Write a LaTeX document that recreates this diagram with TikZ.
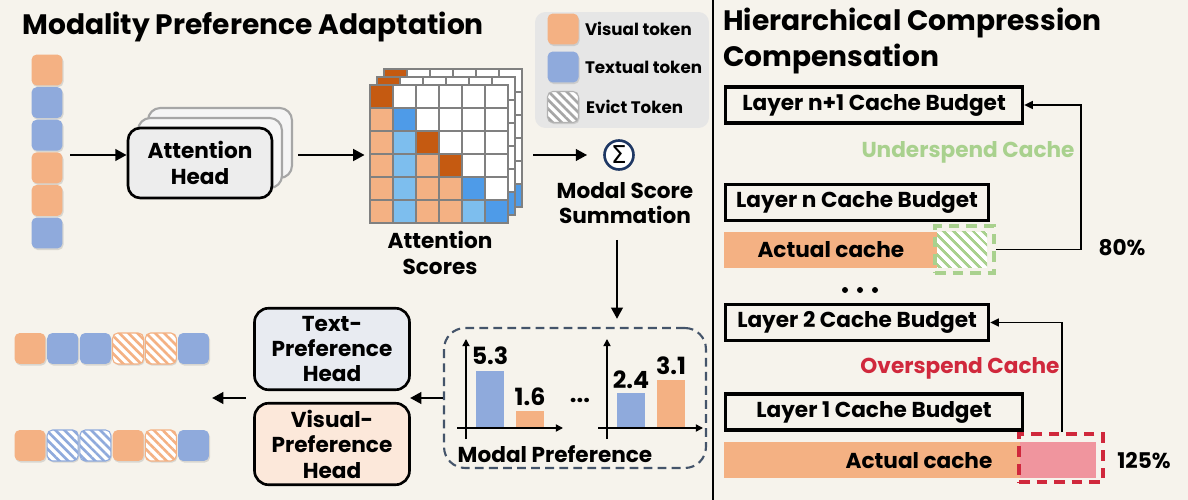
\documentclass[tikz,border=0pt]{standalone}
\usepackage{fontspec}
\setmainfont{Poppins}
\newfontfamily\dejavu{DejaVu Sans}
\usetikzlibrary{arrows.meta,positioning,shadows,patterns.meta}

\definecolor{bgcol}{HTML}{F6F3EC}
\definecolor{vis}{HTML}{F4B183}
\definecolor{txt}{HTML}{8FAADC}
\definecolor{darkor}{HTML}{C55A11}
\definecolor{bluemid}{HTML}{4E9BE8}
\definecolor{ltblue}{HTML}{7DBEEE}
\definecolor{navy}{HTML}{1F3864}
\definecolor{slate}{HTML}{44546A}
\definecolor{legcol}{HTML}{E6E6E6}
\definecolor{grn}{HTML}{A9D18E}
\definecolor{redc}{HTML}{D0283C}
\definecolor{pinkc}{HTML}{F0959E}
\definecolor{tphcol}{HTML}{E8EBF1}

\tikzset{
  bodyfont/.style={font=\fontsize{12.3}{14.5}\selectfont\bfseries},
  ttl/.style={font=\fontsize{16}{20.5}\selectfont\bfseries, inner sep=0pt},
  arr/.style={-{Triangle[length=6.5pt,width=6.5pt]}, line width=1.7pt},
  thinarr/.style={-{Triangle[length=5pt,width=4.5pt]}, line width=1pt},
  tok/.style={rounded corners=3pt, minimum size=0.62cm, inner sep=0pt,
    drop shadow={shadow xshift=0.6pt, shadow yshift=-0.9pt, opacity=0.25}},
  htok/.style={tok, line width=0.6pt, preaction={fill=white},
    pattern={Lines[angle=-45,distance=3.6pt,line width=1.5pt]}},
  headbk/.style={draw=black!35, fill=black!4, line width=1.2pt, rounded corners=7pt,
    minimum width=2.88cm, minimum height=1.4cm},
  headbox/.style={bodyfont, align=center, draw=black, fill=black!7, line width=1.5pt,
    rounded corners=7pt, minimum width=2.88cm, minimum height=1.4cm},
  prefhead/.style={bodyfont, align=center, draw=black, line width=1.5pt,
    rounded corners=8pt, minimum width=3.1cm, minimum height=1.63cm},
  lbox/.style={bodyfont, draw=black, line width=1.8pt, anchor=west,
    minimum height=0.72cm, inner sep=0pt},
  cachebar/.style={fill=vis, anchor=west, minimum height=0.72cm, inner sep=0pt},
  num/.style={font=\fontsize{13.5}{15}\selectfont\bfseries, inner sep=0pt},
  axarr/.style={-{Triangle[length=4pt,width=4pt]}, line width=0.9pt},
}

% one layer of the attention score grid
\newcommand\attlayer[2]{%
  \foreach \c/\o in {0/1,1/0,2/1,3/1,4/0,5/0}
    \foreach \r in {0,...,5}{
      \ifnum\c>\r \def\cc{white}\else
        \ifnum\c=\r \ifnum\o=1 \def\cc{darkor}\else\def\cc{bluemid}\fi
        \else \ifnum\o=1 \def\cc{vis}\else\def\cc{ltblue}\fi\fi\fi
      \filldraw[fill=\cc, draw=black!50, line width=0.8pt]
        (370+#1+23*\c,85+#2+23*\r) rectangle ++(23,23);
    }%
}

\begin{document}
\begin{tikzpicture}[x=0.02cm, y=-0.02cm]
  \fill[bgcol] (0,0) rectangle (1188,500);
  \useasboundingbox (0,0) rectangle (1188,500);

  % Titles and divider
  \node[ttl, anchor=west] (title1) at (22,27) {Modality Preference Adaptation};
  \node[ttl, anchor=north west, align=left] (title2) at (723,8) {Hierarchical Compression\\Compensation};
  \draw[line width=1.2pt] (713,0) -- (713,500);

  % Input tokens
  \foreach \c [count=\i from 0] in {vis,txt,txt,vis,vis,txt}
    \node[tok, fill=\c] (in\i) at (47,70+32.6*\i) {};

  % Attention heads
  \node[headbk] (head3) at (220,143) {};
  \node[headbk] (head2) at (210,153) {};
  \node[headbox] (head) at (200,163) {Attention\\Head};
  \coordinate (a1) at (70,155);
  \draw[arr] (a1) -- (a1 -| head.west);

  % Attention scores
  \attlayer{14}{-16}
  \attlayer{7}{-8}
  \attlayer{0}{0}
  \node[minimum width=2.76cm, minimum height=2.76cm] (mat) at (439,154) {};
  \node[bodyfont, align=center] (attlbl) at (440,253) {Attention\\Scores};
  \coordinate (a2) at (298,155);
  \draw[arr] (a2) -- ([xshift=-0.1cm]a2 -| mat.west);

  % Summation
  \node[circle, draw=navy, fill=white, line width=1.5pt, minimum size=0.58cm, inner sep=0pt,
    font=\dejavu\fontsize{14}{14}\selectfont] (sig) at (619,155) {Σ};
  \node[bodyfont, align=center] (sumlbl) at (625,203) {Modal Score\\Summation};
  \coordinate (a3) at (533,155);
  \draw[arr] (a3) -- ([xshift=-0.32cm]sig.west);

  % Legend
  \node[fill=legcol, rounded corners=6pt, minimum width=3.48cm, minimum height=2.32cm] (leg) at (622,70) {};
  \node[tok, fill=vis] (lg1) at (563,29) {};
  \node[tok, fill=txt] (lg2) at (563,67) {};
  \node[htok, draw=black!30, pattern color=black!35] (lg3) at (563,107) {};
  \node[font=\fontsize{9.5}{11}\selectfont\bfseries, anchor=west] (lt1) at (lg1.east) {Visual token};
  \node[font=\fontsize{9.5}{11}\selectfont\bfseries, anchor=west] (lt2) at (lg2.east) {Textual token};
  \node[font=\fontsize{9.5}{11}\selectfont\bfseries, anchor=west] (lt3) at (lg3.east) {Evict Token};

  % Modal preference
  \node[draw=slate, dash pattern=on 5pt off 3pt, line width=1.2pt, rounded corners=12pt,
    minimum width=5.24cm, minimum height=2.8cm] (pref) at (575,398) {};
  \coordinate (a4) at (617,240);
  \draw[arr] (a4) -- ([yshift=0.16cm]a4 |- pref.north);
  \fill[txt] (476,371) rectangle (504,428);
  \fill[vis] (516,411) rectangle (544,428);
  \draw[axarr] (457,428) -- (563,428);
  \draw[axarr] (466,439) -- (466,339);
  \node[num] (v1) at (490,356) {5.3};
  \node[num] (v2) at (530,397) {1.6};
  \node[num] (dots) at (580,400) {...};
  \fill[txt] (617,393) rectangle (645,428);
  \fill[vis] (657,380) rectangle (685,428);
  \draw[axarr] (598,428) -- (703,428);
  \draw[axarr] (607,439) -- (607,339);
  \node[num] (v3) at (631,380) {2.4};
  \node[num] (v4) at (671,366) {3.1};
  \node[bodyfont] (preflbl) at (555,454) {Modal Preference};

  % Preference heads
  \node[prefhead, fill=tphcol] (tph) at (332,349) {Text-\\Preference\\Head};
  \node[prefhead, fill=vis!30] (vph) at (332,444) {Visual-\\Preference\\Head};
  \coordinate (a5) at (410,398);
  \draw[arr] (pref.west) -- (a5);
  \coordinate (a6) at (246,398);
  \coordinate (a7) at (212,398);
  \draw[arr] (a6) -- (a7);

  % Compressed token rows
  \foreach \c/\p in {vis/0,txt/1,txt/2,txt/5}
    \node[tok, fill=\c] (ra\p) at (30+32.7*\p,348.5) {};
  \foreach \p in {3,4}
    \node[htok, draw=vis, pattern color=vis] (ra\p) at (30+32.7*\p,348.5) {};
  \foreach \c/\p in {vis/0,vis/3,txt/5}
    \node[tok, fill=\c] (rb\p) at (30+32.7*\p,445.5) {};
  \foreach \c/\p in {txt/1,txt/2,vis/4}
    \node[htok, draw=\c, pattern color=\c] (rb\p) at (30+32.7*\p,445.5) {};

  % Cache budgets
  \node[lbox, minimum width=5.94cm] (lnp) at (724,105) {Layer n+1 Cache Budget};
  \node[lbox, minimum width=5.26cm] (ln) at (724,202.5) {Layer n Cache Budget};
  \node[cachebar, minimum width=4.26cm, bodyfont] (acn) at (724,250) {Actual cache};
  \fill[white] (937,232) rectangle (987,268);
  \fill[pattern={Lines[angle=-45,distance=4pt,line width=1.6pt]}, pattern color=grn] (937,232) rectangle (987,268);
  \node[draw=grn, dash pattern=on 6pt off 4pt, line width=2pt, minimum width=1.18cm,
    minimum height=0.94cm] (gdash) at (964.5,249.5) {};
  \node[bodyfont, text=grn] (under) at (968,152) {Underspend Cache};
  \node[bodyfont] (p80) at (1122,248) {80\%};
  \coordinate (rtA) at (1081,0);
  \draw[thinarr] (gdash.east) -- (gdash.east -| rtA) -- (rtA |- lnp.east) -- (lnp.east);

  \foreach \k in {0,1,2} \fill (845+15*\k,290) circle (3);

  \node[lbox, minimum width=5.26cm] (l2) at (724,322.5) {Layer 2 Cache Budget};
  \node[lbox, minimum width=5.94cm] (l1) at (724,412) {Layer 1 Cache Budget};
  \node[cachebar, minimum width=5.92cm] (ac1) at (724,460) {};
  \node[bodyfont] (ac1lbl) at (919,461) {Actual cache};
  \fill[pinkc] (1020,442) rectangle (1096,478);
  \node[draw=redc, dash pattern=on 6pt off 4pt, line width=2pt, minimum width=1.68cm,
    minimum height=0.96cm] (rdash) at (1061,458) {};
  \node[bodyfont, text=redc] (over) at (960,368) {Overspend Cache};
  \node[bodyfont] (p125) at (1144,461) {125\%};
  \coordinate (rtB) at (1062,0);
  \draw[thinarr] (rdash.north -| rtB) -- (rtB |- l2.east) -- (l2.east);
\end{tikzpicture}
\end{document}
